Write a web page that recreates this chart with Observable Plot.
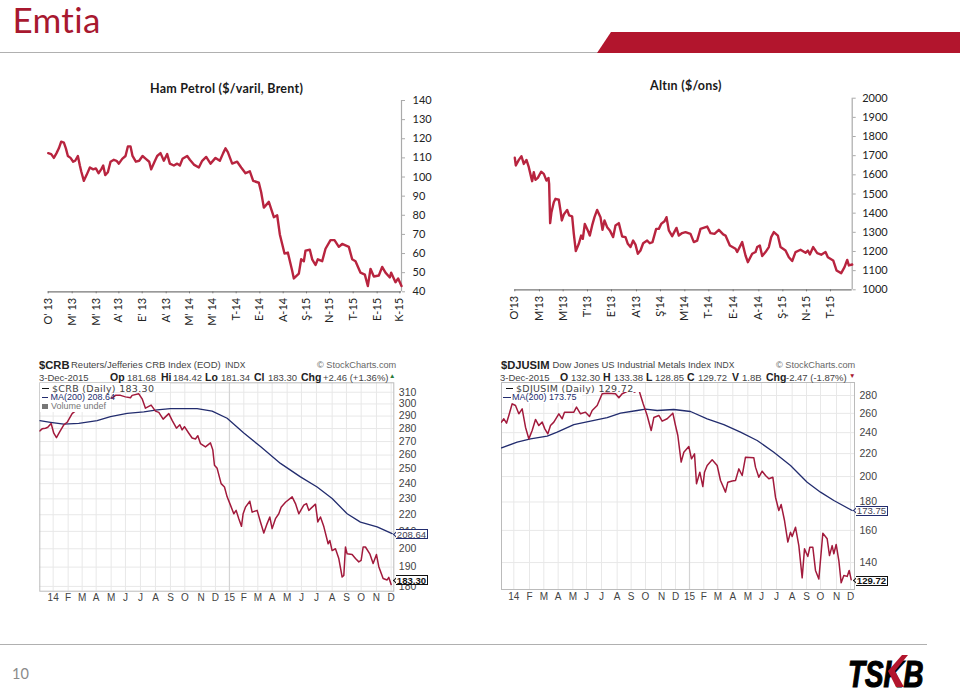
<!DOCTYPE html>
<html lang="tr">
<head>
<meta charset="utf-8">
<title>Emtia</title>
<script src="https://cdn.jsdelivr.net/npm/d3@7"></script>
<script src="https://cdn.jsdelivr.net/npm/@observablehq/plot@0.6"></script>
<style>
html,body{margin:0;padding:0;background:#fff;}
#page{position:relative;width:960px;height:691px;overflow:hidden;font-family:Lato,sans-serif;font-variant-ligatures:none;}
#page>svg{position:absolute;}
.t{position:absolute;white-space:pre;line-height:1.25;}
.sc{font-family:"Liberation Sans",sans-serif;color:#444;}
.box{position:absolute;background:#fff;display:flex;align-items:center;justify-content:center;font-family:"Liberation Sans",sans-serif;box-sizing:border-box;}
.notch{position:absolute;width:5px;height:5px;background:#fff;transform:rotate(45deg);box-sizing:border-box;}
</style>
</head>
<body>
<div id="page"></div>
<script>
// ---- Brent ($/varil) ----
const brentLabels = ["O' 13","M' 13","M' 13","A' 13","E' 13","A' 13","M' 14","M' 14","T-14","E-14","A-14","Ş-15","N-15","T-15","E-15","K-15"];
const brentTicks = [53,125,197,265,335,407,477,547,617,688,758,828,897,968,1040,1108];
const brentYTicks = [40,50,60,70,80,90,100,110,120,130,140];
const brentStep = [53,62,70,78,85,92,100,106,112,120,128,134,142,148,152,160,168,178,188,196,204,212,218,224,232,240,250,258,265,275,285,292,300,306,316,326,336,346,356,362,372,380,390,400,410,418,430,440,448,456,470,478,490,505,515,527,540,555,568,578,585,592,605,620,632,645,658,668,685,692,700,715,730,740,748,755,762,772,785,790,805,812,820,825,838,845,855,862,875,885,900,912,925,935,955,965,975,990,1003,1012,1020,1030,1045,1055,1065,1078,1082,1095,1103,1113];
const brentPrice = [112.5,112,110,112.5,115,118.5,118,115,111,110,108,108.5,111,106,103,98,101,105,104,104.5,102,104,106,101,102.5,108,109,108.5,107,109.5,111,116,116,111,108,108.5,111,109.5,108,104,108,111,112.5,108.5,112,107,106,107,106,109.5,111,109,106.5,105,108.5,110.5,107,110,108.5,112.5,115,113,107,108,105,102,103,98,97,92,84,87,79,80,70,65,60,60.5,51,47,49.5,57,56,61.5,62,57,54,57,56,62.5,67,67,63.5,65,63.5,57,56,50,49,43,52,48,48.5,53,50,47.5,50,45,47,43];

// ---- Altın ($/ons) ----
const goldLabels = ["O'13","M'13","M'13","T'13","E'13","A'13","Ş'14","M'14","T-14","E-14","A-14","Ş-15","N-15","T-15"];
const goldTicks = [73,147,218,291,363,438,510,583,655,728,805,877,948,1020];
const goldYTicks = [1000,1100,1200,1300,1400,1500,1600,1700,1800,1900,2000];
const goldStep = [73,76,85,93,100,108,115,122,125,130,135,142,152,160,168,174,176,179,183,190,195,205,210,214,220,230,236,245,250,256,265,272,277,283,292,298,305,312,320,330,336,342,350,358,368,375,385,395,405,412,420,428,435,442,450,458,470,478,486,497,505,512,522,528,535,545,558,565,575,585,600,610,620,630,650,660,672,685,698,705,718,735,740,755,765,772,785,795,800,808,815,825,835,842,850,862,870,885,895,905,915,930,945,952,958,968,980,992,1005,1012,1028,1038,1052,1062,1070,1075,1085];
const goldPrice = [1689,1649,1678,1697,1657,1678,1640,1588,1567,1614,1574,1584,1616,1605,1570,1584,1553,1348,1405,1457,1475,1470,1414,1362,1393,1417,1388,1383,1292,1202,1240,1283,1266,1344,1310,1283,1336,1379,1417,1379,1313,1362,1327,1310,1275,1336,1348,1278,1275,1240,1223,1257,1236,1188,1205,1243,1257,1243,1249,1318,1318,1344,1358,1379,1310,1280,1323,1283,1296,1301,1292,1249,1257,1318,1330,1296,1292,1313,1289,1283,1231,1214,1197,1249,1179,1144,1188,1197,1223,1231,1176,1197,1223,1275,1301,1283,1223,1205,1170,1150,1197,1209,1193,1205,1184,1223,1191,1183,1197,1170,1153,1101,1087,1118,1156,1127,1132];

// ---- Month labels of the two StockCharts panels ----
const monthLabels = ["14","F","M","A","M","J","J","A","S","O","N","D","15","F","M","A","M","J","J","A","S","O","N","D"];
const yearLabels = ["14","15"];

// ---- $CRB ----
const crbTicks = [68,113,155,197,242,285,330,375,420,463,512,555,597,640,682,725,770,813,858,905,948,992,1038,1082];
const crbYTicks = [180,190,200,210,220,230,240,250,260,270,280,290,300,310];
const crbStep = [28,35,45,52,62,70,78,88,100,110,125,150,190,220,245,255,270,285,300,305,325,335,345,362,375,385,398,415,425,438,448,455,462,475,485,495,502,510,525,540,547,552,560,572,582,590,600,610,617,625,633,638,645,658,665,680,690,700,710,718,725,735,745,752,765,785,795,805,820,828,835,855,862,870,880,893,898,905,915,925,935,940,945,950,965,975,985,992,998,1005,1018,1028,1038,1045,1058,1070,1075,1082];
const crbClose = [278.2,279.8,280.3,281,284,276.4,273,277.7,283,285,292,297.7,303,306,305,307.3,307.3,306,305.3,307.3,308.6,304.3,296.5,299,294,293,287.5,292,286.5,280.3,283,279,281.5,276.4,272.7,272,274.5,268.5,266,269,263.8,252.7,250.5,240,237.8,231.3,226,220.6,222.7,217.6,213,220.6,224.7,228.5,221.6,222.7,215.6,209,214.6,218.6,211.6,217.6,220.6,224.7,227.8,231.3,227,220.6,226,227,222.7,226.6,215.6,218.6,212.8,202.8,204.7,199,200,194.6,184.8,185.6,201,197.2,196.8,194.6,192.8,193.6,201,201,197.2,191.9,196.8,190.2,184,183.3,184.6,181];
const crbMaStep = [28,60,100,145,200,240,290,340,380,420,500,545,590,640,690,750,810,860,905,950,990,1040,1085];
const crbMa = [286.3,285,283.6,284.1,286.3,289.5,292.2,293.5,295,296.1,296.1,294.1,288.2,276.5,266.3,254,244.6,237.8,230.2,220.6,215.5,212.6,208.64];

// ---- $DJUSIM ----
const djTicks = [70,117,160,203,247,288,333,380,422,465,513,555,597,640,682,727,772,813,858,905,948,990,1038,1080];
const djYTicks = [140,160,180,200,220,240,260,280];
const djStep = [33,40,48,55,65,75,85,95,105,115,125,135,145,155,163,172,180,190,205,215,222,240,250,258,270,285,297,305,320,335,350,375,385,395,420,432,445,458,470,482,490,505,515,530,547,555,562,572,580,595,603,612,618,628,637,642,650,665,680,690,705,712,725,735,745,755,765,790,795,805,815,825,835,847,855,865,872,882,892,900,905,915,925,935,942,952,958,967,975,985,997,1010,1017,1025,1030,1037,1045,1052,1060,1070,1076,1082];
const djClose = [250.7,254.2,249.6,257.7,270.5,268.6,259.5,264.9,245.5,233.9,242.1,253.5,247.2,250.7,243.8,238.8,247.2,250.7,259.5,254.2,261.3,261.3,261.3,266.8,259.5,261.3,256.6,263.1,268.6,282,282.7,282,277.3,282,286.7,283.9,286.7,270.5,257.7,242.1,255.5,257.7,251.7,254.2,260.2,247.2,237.2,212.4,221.3,226.6,215.3,219.8,194.1,203.7,191.9,203.7,209.4,214.4,209.4,196.8,187.5,195.4,196.4,196.8,206.5,200.9,216.8,216.2,208,199.5,204.5,200.9,198.2,199.5,183.6,173.7,178.1,166.7,152.4,158.8,156,162.1,150.2,131.4,148.2,143.6,149.2,149.2,135.5,130.8,158.1,154.5,144.1,150.2,145.2,150.9,141.2,128.7,132.7,132.2,135.5,130.4];
const djMaStep = [33,80,120,170,200,250,300,350,390,440,465,500,550,600,650,700,750,800,850,900,950,990,1030,1085];
const djMa = [225.3,230.7,233.9,236.5,240.5,248.2,251.7,255.5,260.2,263.1,264.6,263.1,264.2,262,254.2,248.2,240.5,232.3,221.3,209.4,195.4,187.5,181.1,173.75];

[[brentStep,brentPrice],[goldStep,goldPrice],[crbStep,crbClose],[crbMaStep,crbMa],[djStep,djClose],[djMaStep,djMa]].forEach(([a,b],i)=>{ if(a.length!==b.length) throw new Error("length mismatch "+i+": "+a.length+" vs "+b.length); });

const page = document.getElementById("page");
const RED = "#b8243f", NAVY = "#222c6e";

function place(svg, left, top){ svg.style.left = left+"px"; svg.style.top = top+"px"; page.appendChild(svg); }
function text(s, x, y, css, cls){
  const d = document.createElement("div");
  d.className = "t" + (cls ? " "+cls : "");
  d.textContent = s;
  d.style.left = x+"px"; d.style.top = y+"px";
  Object.assign(d.style, css||{});
  page.appendChild(d); return d;
}
function rect(x,y,w,h,bg){
  const d = document.createElement("div");
  Object.assign(d.style,{position:"absolute",left:x+"px",top:y+"px",width:w+"px",height:h+"px",background:bg});
  page.appendChild(d); return d;
}

// Upper panels
function lineChart({left,top,width,height,ml,mr,mt,mb,xDomain,yDomain,ticks,labels,yTicks,step,values,fontX,pad}){
  const svg = Plot.plot({
    width,height,marginLeft:ml,marginRight:mr,marginTop:mt,marginBottom:mb,
    style:{fontFamily:"Lato, sans-serif",background:"transparent",color:"#222"},
    x:{domain:xDomain,label:null},
    y:{domain:yDomain,label:null},
    marks:[
      Plot.ruleY([yDomain[0]],{stroke:"#777",strokeWidth:1.2}),
      Plot.ruleX([xDomain[1]],{stroke:"#aaa",strokeWidth:1.2}),
      Plot.axisX({ticks,tickFormat:(d,i)=>labels[i],tickRotate:-90,tickSize:2,tickPadding:4,fontSize:fontX,stroke:"#777",fill:"#222",label:null}),
      Plot.axisY({anchor:"right",ticks:yTicks,tickFormat:d=>String(d),tickSize:3,tickPadding:pad,fontSize:11,stroke:"#aaa",fill:"#222",label:null}),
      Plot.line(step,{x:step,y:values,stroke:RED,strokeWidth:2.4,strokeLinejoin:"round"})
    ]
  });
  place(svg,left,top);
}
lineChart({left:30,top:90,width:420,height:240,ml:17.7,mr:49,mt:10,mb:38.7,xDomain:[53,1113],yDomain:[40,140],ticks:brentTicks,labels:brentLabels,yTicks:brentYTicks,step:brentStep,values:brentPrice,fontX:11,pad:8});
lineChart({left:490,top:85,width:420,height:245,ml:24.3,mr:58.3,mt:12.7,mb:40.7,xDomain:[73,1085],yDomain:[1000,2000],ticks:goldTicks,labels:goldLabels,yTicks:goldYTicks,step:goldStep,values:goldPrice,fontX:11,pad:7});

// Lower panels
function stockChart({left,top,width,height,ml,mr,mt,mb,xDomain,yDomain,ticks,yTicks,step,values,maStep,ma}){
  const svg = Plot.plot({
    width,height,marginLeft:ml,marginRight:mr,marginTop:mt,marginBottom:mb,
    style:{fontFamily:"'Liberation Sans', sans-serif",background:"transparent",color:"#333"},
    x:{domain:xDomain,label:null,axis:null},
    y:{type:"log",domain:yDomain,label:null,axis:null},
    marks:[
      Plot.ruleX(ticks,{stroke:"#e8e8e8",strokeWidth:1}),
      Plot.ruleY(yTicks,{stroke:"#e8e8e8",strokeWidth:1}),
      Plot.ruleX([ticks[12]],{stroke:"#d4d4d4",strokeWidth:1.2}),
      Plot.frame({stroke:"#bbb"}),
      Plot.line(maStep,{x:maStep,y:ma,stroke:NAVY,strokeWidth:1.3,clip:true}),
      Plot.line(step,{x:step,y:values,stroke:"#a21a3c",strokeWidth:1.5,strokeLinejoin:"round",clip:true}),
      Plot.axisY({anchor:"right",ticks:yTicks,tickFormat:d=>String(d),tickSize:0,tickPadding:5,fontSize:10.5,fill:"#444",label:null}),
      Plot.text(ticks,{x:ticks,text:(d,i)=>monthLabels[i],frameAnchor:"bottom",dy:10,fontSize:10,fill:"#444",
        fontWeight:(d,i)=>yearLabels.includes(monthLabels[i])?"bold":"normal"})
    ]
  });
  place(svg,left,top);
}
stockChart({left:30,top:350,width:420,height:260,ml:9.3,mr:56.7,mt:32.3,mb:19.3,xDomain:[28,1090],yDomain:[177.6,318.3],ticks:crbTicks,yTicks:crbYTicks,step:crbStep,values:crbClose,maStep:crbMaStep,ma:crbMa});
stockChart({left:490,top:350,width:420,height:260,ml:11,mr:56,mt:32,mb:21,xDomain:[33,1092],yDomain:[125.2,295.5],ticks:djTicks,yTicks:djYTicks,step:djStep,values:djClose,maStep:djMaStep,ma:djMa});

// Slide chrome: title, band, footer
rect(0,51.5,598,1.6,"#b0b0b0");
const band = rect(597,32,363,21,"#b2152d");
band.style.clipPath = "polygon(14px 0,100% 0,100% 100%,0 100%)";
text("Emtia",12.5,2.4,{fontSize:"35px",lineHeight:"1",color:"#a8182f",fontWeight:"400",letterSpacing:".3px"});
rect(0,643.5,927,1.6,"#b0b0b0");
text("10",12,665,{fontSize:"14.5px",color:"#8a8a8a"});

// Upper panel titles
text("Ham Petrol ($/varil, Brent)",150,80.5,{fontSize:"12.5px",fontWeight:"700",color:"#1a1a1a",letterSpacing:".25px"});
text("Altın ($/ons)",650,77.5,{fontSize:"12.5px",fontWeight:"700",color:"#1a1a1a",letterSpacing:".25px"});

// Lower panel headers
function seg(s,x,y,size,bold,color){ return text(s,x,y,{fontSize:size+"px",fontWeight:bold?"700":"400",color:color||"#444"},"sc"); }
// $CRB
seg("$CRB",39,358,11.2,true,"#222");
seg("Reuters/Jefferies CRB Index (EOD)",71,359,9.5,false);
seg("INDX",225,359.5,8.5,false);
seg("© StockCharts.com",317,359.5,9.2,false,"#666");
seg("3-Dec-2015",39,371.5,9.5,false);
seg("Op",110,371,10.5,true,"#222"); seg("181.68",127,371.5,9.5,false);
seg("Hi",161,371,10.5,true,"#222"); seg("184.42",173,371.5,9.5,false);
seg("Lo",205,371,10.5,true,"#222"); seg("181.34",221,371.5,9.5,false);
seg("Cl",254,371,10.5,true,"#222"); seg("183.30",268,371.5,9.5,false);
seg("Chg",301,371,10.5,true,"#222"); seg("+2.46 (+1.36%)",323,371.5,9.5,false); seg("▲",389,372,6.5,false,"#2a7a3a");
// $CRB legend, over the line
rect(40,383,71,29,"#fff");
rect(40,383,130,9,"#fff");
rect(42,387.5,7,1.8,"#111");
text("$CRB (Daily) 183.30",52,382.5,{fontSize:"9.5px",color:"#444",fontFamily:"DejaVu Sans",letterSpacing:".3px"});
rect(42,397,6,1.4,NAVY);
text("MA(200) 208.64",50.5,392,{fontSize:"9px",color:NAVY,fontFamily:"Liberation Sans"});
text("Volume undef",51,401,{fontSize:"9px",color:"#777",fontFamily:"Liberation Sans"});
rect(42,404,6,5,"#777");
// $DJUSIM
seg("$DJUSIM",501,358,11.2,true,"#222");
seg("Dow Jones US Industrial Metals Index",552.5,359,9.4,false);
seg("INDX",714,359.5,8.5,false);
seg("© StockCharts.com",776,359.5,9.2,false,"#666");
seg("3-Dec-2015",500,371.5,9.5,false);
seg("O",560,371,10.5,true,"#222"); seg("132.30",571,371.5,9.5,false);
seg("H",603,371,10.5,true,"#222"); seg("133.38",614,371.5,9.5,false);
seg("L",646,371,10.5,true,"#222"); seg("128.85",655,371.5,9.5,false);
seg("C",687,371,10.5,true,"#222"); seg("129.72",698,371.5,9.5,false);
seg("V",732,371,10.5,true,"#222"); seg("1.8B",742,371.5,9.5,false);
seg("Chg",766,371,10.5,true,"#222"); seg("-2.47 (-1.87%)",786,371.5,9.5,false); seg("▼",849,372,6.5,false,"#a8182f");
rect(502,383,140,9,"#fff");
rect(502,392,80,11,"#fff");
rect(506,387.5,7,1.8,"#111");
text("$DJUSIM (Daily) 129.72",516,382.5,{fontSize:"9.5px",color:"#444",fontFamily:"DejaVu Sans",letterSpacing:".3px"});
rect(503,397,8,1.4,NAVY);
text("MA(200) 173.75",512,392,{fontSize:"9px",color:NAVY,fontFamily:"Liberation Sans"});

// Last-value callouts
function callout(s,x,y,border,bold){
  const n=document.createElement("div"); n.className="notch";
  Object.assign(n.style,{left:(x-2.5)+"px",top:(y+2.5)+"px",borderLeft:"1px solid "+border,borderBottom:"1px solid "+border});
  page.appendChild(n);
  const d=document.createElement("div"); d.className="box"; d.textContent=s;
  Object.assign(d.style,{left:x+"px",top:y+"px",width:"32px",height:"10px",border:(bold?1.4:1)+"px solid "+border,borderLeft:"none",
    fontSize:"9.6px",fontWeight:bold?"700":"400",color:bold?"#111":"#445"});
  page.appendChild(d);
}
callout("208.64",396,529,NAVY,false);
callout("183.30",396,575,"#111",true);
callout("173.75",856,505.5,NAVY,false);
callout("129.72",856,575.5,"#111",true);

// TSKB logo
const ns="http://www.w3.org/2000/svg";
const logo=document.createElementNS(ns,"svg");
logo.setAttribute("width","90"); logo.setAttribute("height","36");
logo.style.cssText="left:848px;top:654px;overflow:visible;";
logo.innerHTML='<text transform="translate(0,33) scale(0.75,1)" font-family="Liberation Sans" font-weight="700" font-style="italic" font-size="37" stroke="#000" stroke-width="1.2">TSKB</text>'+
  '<polygon points="60,1 54,1 40,17 48,33 56,33 47,17" fill="#b2152d"/>';
page.appendChild(logo);
</script>
</body>
</html>
